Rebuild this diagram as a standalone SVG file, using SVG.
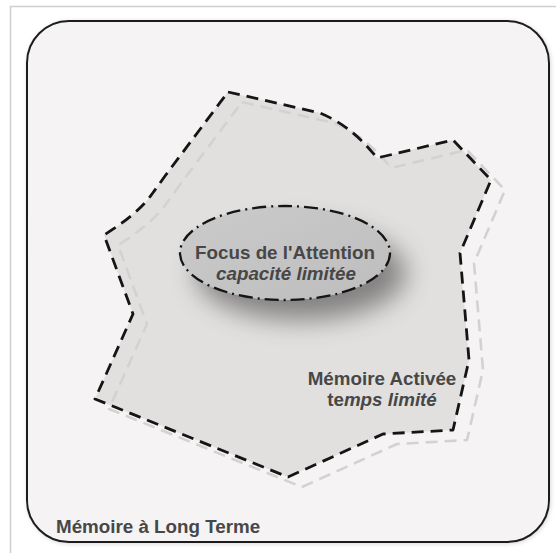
<svg xmlns="http://www.w3.org/2000/svg" width="556" height="553" viewBox="0 0 556 553">
  <defs>
    <filter id="ellShadow" x="-50%" y="-80%" width="210%" height="290%">
      <feDropShadow dx="16" dy="20" stdDeviation="13" flood-color="#000" flood-opacity="0.42"/>
    </filter>
    <filter id="boxShadow" x="-5%" y="-5%" width="110%" height="110%">
      <feDropShadow dx="1" dy="1" stdDeviation="2" flood-color="#000" flood-opacity="0.15"/>
    </filter>
    <linearGradient id="ellFill" x1="0" y1="0" x2="1" y2="1">
      <stop offset="0" stop-color="#cbcbcb"/>
      <stop offset="1" stop-color="#bdbdbd"/>
    </linearGradient>
  </defs>
  <style>
    .lbl { font-family: "Liberation Sans", Arial, sans-serif; font-weight: bold; font-size: 18.8px; fill: #474747; }
    .it { font-style: italic; }
    .black-dash { fill: none; stroke: #151515; stroke-width: 2.8; stroke-dasharray: 12 7; stroke-linejoin: round; }
    .gray-dash { fill: none; stroke: #d2d2d2; stroke-width: 2.6; stroke-dasharray: 12 7; stroke-linejoin: round; }
  </style>

  <rect x="0" y="0" width="556" height="553" fill="#ffffff"/>
  <rect x="10.5" y="6.5" width="560" height="560" fill="#ffffff" stroke="#cfcfcf" stroke-width="1.5"/>

  <g id="long-term-memory">
    <rect x="27" y="21" width="522" height="521" rx="42" ry="42" fill="#f6f3f4" stroke="#1e1e1e" stroke-width="2" filter="url(#boxShadow)"/>
    <text class="lbl" x="56" y="533">Mémoire à Long Terme</text>
  </g>

  <g id="activated-memory">
    <path d="M228,92 L320,113 Q352,126 377,158 L453,140 L491,180 L460,253 L469,360 L453,430 L383,434 L288,477 L95,399 L133,314 L104,235 Q138,214 152,194 Q158,186 165,176 Z" fill="#e2e0df" stroke="none"/>
    <path class="gray-dash" transform="translate(14,10)" d="M228,92 L320,113 Q352,126 377,158 L453,140 L491,180 L460,253 L469,360 L453,430 L383,434 L288,477 L95,399 L133,314 L104,235 Q138,214 152,194 Q158,186 165,176 Z"/>
    <path class="black-dash" d="M228,92 L320,113 Q352,126 377,158 L453,140 L491,180 L460,253 L469,360 L453,430 L383,434 L288,477 L95,399 L133,314 L104,235 Q138,214 152,194 Q158,186 165,176 Z"/>
    <text class="lbl" x="382" y="385" text-anchor="middle">Mémoire Activée</text>
    <text class="lbl" x="382" y="406" text-anchor="middle">te<tspan class="it">mps limité</tspan></text>
  </g>

  <g id="focus-attention">
    <ellipse cx="285" cy="253" rx="105" ry="47" fill="url(#ellFill)" filter="url(#ellShadow)"/>
    <ellipse cx="285" cy="253" rx="105" ry="47" fill="none" stroke="#151515" stroke-width="2.3" stroke-dasharray="14 5 2 5"/>
    <text class="lbl" x="285" y="259" text-anchor="middle">Focus de l'Attention</text>
    <text class="lbl it" x="286" y="280" text-anchor="middle">capacité limitée</text>
  </g>
</svg>
